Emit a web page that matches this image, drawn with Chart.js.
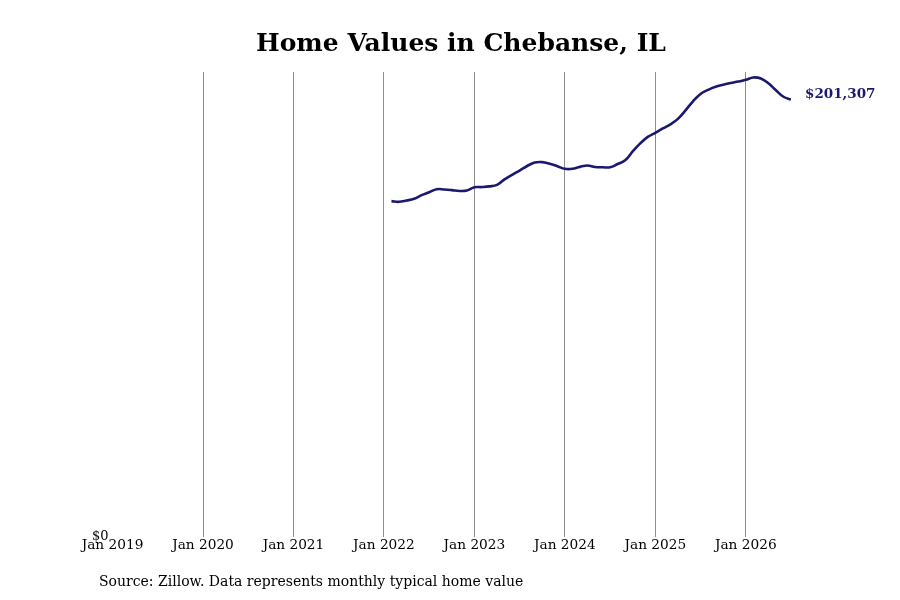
<!DOCTYPE html>
<html>
<head>
<meta charset="utf-8">
<script src="https://cdn.jsdelivr.net/npm/chart.js@4/dist/chart.umd.min.js"></script>
<style>
  html, body { margin: 0; padding: 0; background: #fff; }
  #wrap { width: 900px; height: 600px; position: relative; }
</style>
</head>
<body>
<div id="wrap"><canvas id="chart"></canvas></div>
<script>
// tick labels on the x axis, one per January
const yearTicks = ['Jan 2019', 'Jan 2020', 'Jan 2021', 'Jan 2022', 'Jan 2023', 'Jan 2024', 'Jan 2025', 'Jan 2026'];
// first month of data, counted in months from Jan 2019 (Feb 2022)
const firstMonth = 37;
// typical home value, monthly, Feb 2022 .. Jul 2026
const homeValues = [
  154500, 154200, 154800, 155600, 157300, 158600, 160000, 159900, 159600, 159200, 159400,
  160900, 161000, 161300, 162000, 164500, 166600, 168600, 170700, 172300, 172500, 171700, 170600,
  169400, 169400, 170300, 170900, 170200, 170100, 170100, 171600, 173300, 177400, 181100, 184100,
  186000, 188000, 189900, 192400, 196300, 200500, 203900, 205800, 207200, 208100, 208900, 209600,
  210400, 211500, 211000, 208800, 205600, 202600, 201307
];
const titleText = 'Home Values in Chebanse, IL';
const lastLabel = '$201,307';
const sourceNote = 'Source: Zillow. Data represents monthly typical home value';

const points = homeValues.map((v, i) => ({ x: firstMonth + i, y: v }));
const serif = "'DejaVu Serif', serif";
const navy = '#191970';

const endLabel = {
  id: 'endLabel',
  afterDatasetsDraw(chart) {
    const { ctx, scales } = chart;
    const last = points[points.length - 1];
    ctx.save();
    ctx.font = 'bold 13.5px ' + serif;
    ctx.fillStyle = navy;
    ctx.textBaseline = 'middle';
    ctx.fillText(lastLabel, scales.x.getPixelForValue(last.x) + 14, scales.y.getPixelForValue(last.y) - 5);
    ctx.restore();
  }
};

// title and source note are placed off-centre in the original, so drawn by hand
const texts = {
  id: 'texts',
  afterDraw(chart) {
    const ctx = chart.ctx;
    ctx.save();
    ctx.fillStyle = '#000';
    ctx.textBaseline = 'middle';
    ctx.textAlign = 'center';
    ctx.font = 'bold 25px ' + serif;
    ctx.fillText(titleText, 461, 44);
    ctx.textAlign = 'left';
    ctx.font = '14px ' + serif;
    ctx.fillText(sourceNote, 99, 582);
    ctx.restore();
  }
};

const bgWhite = {
  id: 'bgWhite',
  beforeDraw(chart) {
    const ctx = chart.ctx;
    ctx.save();
    ctx.fillStyle = '#fff';
    ctx.fillRect(0, 0, chart.width, chart.height);
    ctx.restore();
  }
};

new Chart(document.getElementById('chart'), {
  type: 'line',
  data: {
    datasets: [{
      data: points,
      borderColor: navy,
      borderWidth: 2.6,
      pointRadius: 0,
      tension: 0.4,
      fill: false
    }]
  },
  options: {
    responsive: true,
    maintainAspectRatio: false,
    animation: false,
    layout: { padding: { left: 88, right: 109, top: 72, bottom: 45 } },
    plugins: {
      legend: { display: false },
      tooltip: { enabled: false },
      title: { display: false }
    },
    scales: {
      x: {
        type: 'linear',
        min: 0,
        max: 90,
        afterBuildTicks(axis) {
          axis.ticks = yearTicks.map((t, i) => ({ value: i * 12 }));
        },
        ticks: {
          autoSkip: false,
          maxRotation: 0,
          padding: 1,
          color: '#000',
          font: { family: serif, size: 13.7 },
          callback: (v) => yearTicks[v / 12]
        },
        grid: {
          color: (c) => (c.tick && c.tick.value === 0 ? 'rgba(0,0,0,0)' : '#8c8c8c'),
          lineWidth: 1,
          drawTicks: false
        },
        border: { display: false }
      },
      y: {
        min: 0,
        max: 214000,
        afterBuildTicks(axis) {
          axis.ticks = [{ value: 0 }];
        },
        ticks: {
          color: '#000',
          padding: 4,
          font: { family: serif, size: 13 },
          callback: () => '$0'
        },
        grid: { display: false, drawTicks: false, tickLength: 0 },
        border: { display: false }
      }
    }
  },
  plugins: [bgWhite, endLabel, texts]
});
</script>
</body>
</html>
